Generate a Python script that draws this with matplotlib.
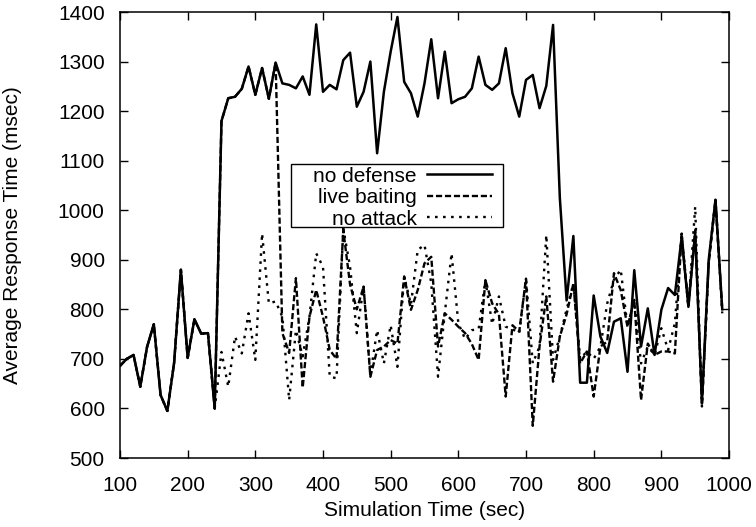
import matplotlib
matplotlib.use("Agg")
import matplotlib.pyplot as plt
from matplotlib.patches import Rectangle
from matplotlib.ticker import MultipleLocator

plt.rcParams['font.family'] = ['Liberation Sans', 'DejaVu Sans']

# Simulation time (sec), sampled every 10 s
sim_time = list(range(100, 1000, 10))

no_defense = [
    686, 700, 708, 644, 724, 770, 627, 595, 692, 880,
    702, 780, 751, 752, 600, 1180, 1226, 1229, 1245, 1290,
    1233, 1287, 1225, 1298, 1256, 1253, 1246, 1270, 1233, 1375,
    1239, 1253, 1244, 1303, 1318, 1209, 1239, 1300, 1115, 1239,
    1320, 1390, 1259, 1236, 1189, 1256, 1345, 1226, 1320, 1216,
    1224, 1229, 1246, 1310, 1253, 1243, 1256, 1327, 1236, 1189,
    1263, 1273, 1206, 1251, 1374, 1025, 818, 948, 652, 652,
    828, 745, 712, 775, 782, 674, 879, 725, 802, 708,
    799, 843, 829, 945, 805, 955, 611, 900, 1021, 800,
]

live_baiting = [
    686, 700, 708, 644, 724, 770, 627, 595, 692, 880,
    702, 780, 751, 752, 600, 1180, 1226, 1229, 1245, 1290,
    1233, 1287, 1225, 1298, 752, 712, 863, 642, 785, 839,
    785, 718, 700, 960, 850, 800, 846, 664, 718, 725,
    738, 731, 866, 799, 839, 893, 906, 725, 792, 779,
    765, 752, 730, 698, 859, 812, 790, 624, 768, 755,
    862, 565, 725, 826, 654, 745, 790, 852, 691, 715,
    624, 725, 735, 873, 839, 765, 819, 617, 731, 708,
    715, 715, 711, 953, 805, 960, 607, 893, 1021, 800,
]

no_attack = [
    686, 700, 708, 644, 724, 770, 627, 595, 692, 880,
    702, 780, 751, 752, 600, 714, 644, 745, 711, 792,
    698, 953, 812, 816, 785, 617, 758, 705, 785, 913,
    886, 664, 661, 963, 886, 752, 846, 668, 758, 691,
    768, 684, 866, 810, 920, 930, 853, 664, 792, 913,
    772, 740, 758, 760, 859, 770, 826, 765, 760, 752,
    862, 691, 725, 950, 698, 745, 800, 852, 700, 715,
    700, 725, 812, 860, 880, 765, 819, 691, 725, 708,
    762, 718, 772, 953, 805, 1007, 604, 893, 1021, 792,
]

series_labels = ["no defense", "live baiting", "no attack"]

FS = 15

fig = plt.figure(figsize=(7.56, 5.27), dpi=100)
ax = fig.add_axes([0.1587, 0.1309, 0.8056, 0.8463])

ax.plot(sim_time, no_defense, color="black", lw=1.8, ls="-",
        label=series_labels[0])
ax.plot(sim_time, live_baiting, color="black", lw=1.7, ls=(0, (2.6, 1.2)),
        label=series_labels[1])
ax.plot(sim_time, no_attack, color="black", lw=1.7, ls=(0, (1.1, 2.3)),
        label=series_labels[2])

ax.set_xlim(100, 1000)
ax.set_ylim(500, 1400)
ax.xaxis.set_major_locator(MultipleLocator(100))
ax.yaxis.set_major_locator(MultipleLocator(100))
ax.tick_params(direction="in", length=6, width=1, top=True, right=True,
               labelsize=FS)
ax.tick_params(axis="x", pad=13)
ax.tick_params(axis="y", pad=11)
for sp in ax.spines.values():
    sp.set_linewidth(1.1)

ax.set_xlabel("Simulation Time (sec)", fontsize=FS)
ax.set_ylabel("Average Response Time (msec)", fontsize=FS)
ax.xaxis.set_label_coords(0.5, -0.117, transform=ax.transAxes)
ax.yaxis.set_label_coords(-0.176, 0.5, transform=ax.transAxes)
ax.xaxis.label.set_va("center")
ax.yaxis.label.set_va("center")

# key: right-aligned labels with line samples, inside a plain box
leg = ax.legend(loc="upper right", bbox_to_anchor=(0.6108, 0.6530),
                markerfirst=False, frameon=False, fontsize=FS,
                handlelength=3.12, handletextpad=0.48, labelspacing=0.12,
                borderpad=0.0, borderaxespad=0)
ax.add_patch(Rectangle((0.2808, 0.5179), 0.6289 - 0.2808, 0.6592 - 0.5179,
                       transform=ax.transAxes, fill=False,
                       edgecolor="black", lw=1.0, zorder=5))

fig.savefig("out.png", dpi=100)
